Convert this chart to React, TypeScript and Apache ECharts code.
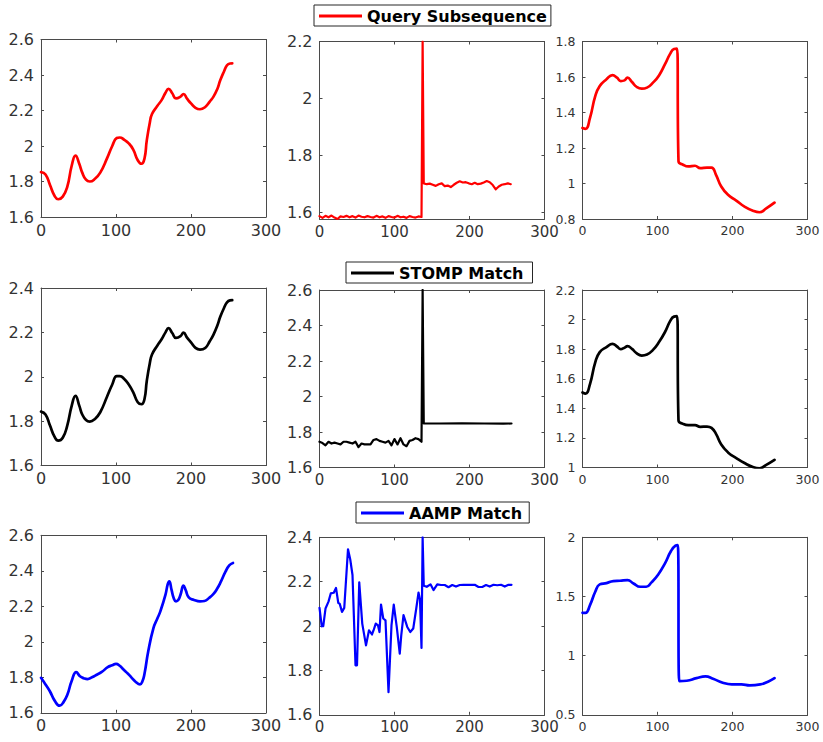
import React, { useEffect, useRef } from "react";
import * as echarts from "echarts";

// ---------- data ----------
const xTicks = [0, 100, 200, 300];

// Row 1: Query Subsequence
const q1X = [0, 6, 12, 18, 23, 29, 35, 41, 46, 51, 55, 60, 65, 72, 79, 88, 95, 101, 105, 111, 117, 123, 129, 134, 138, 141, 145, 148, 155, 161, 166, 170, 175, 180, 186, 190, 195, 200, 206, 212, 219, 225, 230, 235, 239, 244, 248, 252, 255];
const q1Y = [1.853, 1.84, 1.78, 1.72, 1.70, 1.715, 1.77, 1.89, 1.946, 1.90, 1.85, 1.81, 1.80, 1.815, 1.85, 1.93, 2.00, 2.045, 2.048, 2.035, 2.015, 1.98, 1.92, 1.90, 1.93, 2.03, 2.13, 2.18, 2.225, 2.26, 2.30, 2.322, 2.297, 2.268, 2.278, 2.293, 2.265, 2.24, 2.215, 2.207, 2.22, 2.25, 2.278, 2.32, 2.37, 2.42, 2.455, 2.465, 2.466];

const q2X = [0, 4, 8, 12, 16, 20, 24, 28, 32, 36, 40, 44, 48, 52, 56, 60, 64, 68, 72, 76, 80, 84, 88, 92, 96, 100, 104, 108, 112, 116, 120, 124, 128, 132, 136, 137.5, 139, 143, 147, 151, 155, 159, 163, 167, 171, 175, 179, 183, 187, 191, 195, 199, 203, 207, 211, 215, 219, 223, 227, 231, 235, 239, 243, 247, 251, 255];
const q2Y = [1.588, 1.582, 1.589, 1.584, 1.590, 1.583, 1.578, 1.587, 1.585, 1.589, 1.584, 1.588, 1.583, 1.590, 1.586, 1.584, 1.588, 1.585, 1.583, 1.589, 1.584, 1.587, 1.582, 1.588, 1.585, 1.583, 1.589, 1.584, 1.586, 1.582, 1.588, 1.585, 1.583, 1.587, 1.585, 2.2, 1.703, 1.700, 1.702, 1.698, 1.694, 1.700, 1.703, 1.693, 1.695, 1.690, 1.698, 1.705, 1.710, 1.706, 1.707, 1.703, 1.700, 1.705, 1.700, 1.702, 1.706, 1.711, 1.707, 1.697, 1.682, 1.692, 1.698, 1.700, 1.703, 1.700];

const q3X = [0, 4, 10, 17, 23, 32, 40, 46, 51, 56, 60, 66, 72, 79, 86, 94, 102, 110, 117, 122, 126, 128, 134, 141, 150, 157, 166, 172, 178, 185, 194, 205, 216, 228, 236, 245, 256];
const q3Y = [1.313, 1.308, 1.37, 1.492, 1.549, 1.587, 1.611, 1.596, 1.577, 1.581, 1.596, 1.572, 1.545, 1.534, 1.54, 1.568, 1.609, 1.672, 1.732, 1.758, 1.76, 1.125, 1.106, 1.096, 1.1, 1.087, 1.09, 1.09, 1.049, 0.983, 0.936, 0.904, 0.87, 0.845, 0.838, 0.86, 0.892];

// Row 2: STOMP Match
const s1X = q1X;
const s1Y = [1.843, 1.83, 1.78, 1.73, 1.712, 1.725, 1.78, 1.87, 1.914, 1.87, 1.83, 1.805, 1.798, 1.81, 1.84, 1.91, 1.965, 2.003, 2.003, 1.99, 1.965, 1.93, 1.885, 1.876, 1.90, 1.98, 2.06, 2.10, 2.14, 2.17, 2.20, 2.219, 2.197, 2.175, 2.183, 2.199, 2.175, 2.155, 2.13, 2.122, 2.13, 2.16, 2.19, 2.23, 2.27, 2.31, 2.335, 2.344, 2.345];

const s2X = [0, 4, 8, 12, 16, 20, 24, 28, 32, 36, 40, 44, 48, 52, 56, 60, 64, 68, 72, 76, 80, 84, 88, 92, 96, 100, 104, 108, 112, 116, 120, 124, 128, 132, 136, 137.5, 139, 160, 190, 220, 245, 256];
const s2Y = [1.745, 1.738, 1.725, 1.745, 1.735, 1.74, 1.735, 1.73, 1.745, 1.745, 1.74, 1.735, 1.745, 1.715, 1.735, 1.73, 1.73, 1.73, 1.755, 1.76, 1.75, 1.745, 1.74, 1.75, 1.725, 1.76, 1.73, 1.765, 1.73, 1.72, 1.75, 1.755, 1.765, 1.76, 1.745, 2.6, 1.848, 1.848, 1.849, 1.848, 1.847, 1.848];

const s3X = q3X;
const s3Y = [1.507, 1.50, 1.564, 1.711, 1.78, 1.814, 1.836, 1.818, 1.80, 1.81, 1.82, 1.802, 1.773, 1.757, 1.764, 1.795, 1.848, 1.916, 1.991, 2.02, 2.023, 1.318, 1.295, 1.286, 1.286, 1.275, 1.277, 1.268, 1.227, 1.155, 1.102, 1.064, 1.03, 1.002, 0.995, 1.018, 1.052];

// Row 3: AAMP Match
const a1X = [0, 6, 12, 18, 25, 30, 35, 41, 47, 52, 57, 62, 68, 75, 81, 89, 95, 100, 105, 110, 116, 121, 126, 132, 135, 138, 143, 150, 155, 159, 166, 169, 171, 174, 177, 180, 183, 186, 190, 193, 197, 204, 212, 218, 224, 230, 235, 240, 246, 251, 256];
const a1Y = [1.797, 1.76, 1.72, 1.67, 1.64, 1.66, 1.70, 1.78, 1.829, 1.806, 1.795, 1.79, 1.80, 1.816, 1.83, 1.857, 1.868, 1.876, 1.865, 1.844, 1.82, 1.797, 1.775, 1.76, 1.775, 1.82, 1.947, 2.078, 2.13, 2.17, 2.266, 2.325, 2.341, 2.294, 2.245, 2.228, 2.235, 2.265, 2.317, 2.29, 2.25, 2.236, 2.228, 2.23, 2.247, 2.27, 2.30, 2.34, 2.395, 2.43, 2.444];

const a2X = [0, 3, 5, 8, 12, 15, 19, 22, 25, 27, 30, 33, 38, 41, 44, 48, 50, 53, 57, 62, 66, 70, 72, 75, 78, 80, 82, 85, 88, 92, 96, 99, 103, 107, 109, 112, 117, 121, 125, 129, 132, 134, 136, 137.5, 139, 143, 148, 152, 157, 162, 167, 172, 177, 182, 187, 192, 197, 202, 207, 212, 217, 222, 227, 232, 237, 242, 247, 252, 256];
const a2Y = [2.082, 1.999, 2.0, 2.079, 2.11, 2.147, 2.15, 2.172, 2.105, 2.10, 2.064, 2.082, 2.346, 2.30, 2.23, 1.823, 1.823, 2.197, 2.011, 1.913, 1.981, 1.962, 1.98, 2.011, 2.003, 1.973, 2.097, 2.034, 2.026, 1.702, 2.004, 2.097, 1.996, 1.876, 1.958, 2.049, 1.996, 1.973, 1.989, 2.079, 2.151, 2.12, 1.901, 2.4, 2.182, 2.177, 2.188, 2.162, 2.188, 2.185, 2.185, 2.175, 2.185, 2.178, 2.185, 2.186, 2.186, 2.186, 2.186, 2.176, 2.176, 2.185, 2.178, 2.186, 2.184, 2.186, 2.178, 2.186, 2.186];

const a3X = [0, 4, 10, 17, 23, 32, 41, 50, 60, 68, 77, 85, 92, 101, 110, 118, 124, 127, 129, 139, 152, 164, 174, 187, 199, 212, 223, 237, 248, 256];
const a3Y = [1.362, 1.362, 1.427, 1.54, 1.602, 1.613, 1.63, 1.633, 1.638, 1.61, 1.582, 1.582, 1.619, 1.686, 1.78, 1.884, 1.93, 1.935, 0.785, 0.788, 0.81, 0.825, 0.805, 0.771, 0.757, 0.757, 0.749, 0.757, 0.782, 0.81];

// y tick labels and limits
const q1Ticks = [1.6, 1.8, 2, 2.2, 2.4, 2.6];
const q2Ticks = [1.6, 1.8, 2, 2.2];
const q3Ticks = [0.8, 1, 1.2, 1.4, 1.6, 1.8];
const s1Ticks = [1.6, 1.8, 2, 2.2, 2.4];
const s2Ticks = [1.6, 1.8, 2, 2.2, 2.4, 2.6];
const s3Ticks = [1, 1.2, 1.4, 1.6, 1.8, 2, 2.2];
const a1Ticks = [1.6, 1.8, 2, 2.2, 2.4, 2.6];
const a2Ticks = [1.6, 1.8, 2, 2.2, 2.4];
const a3Ticks = [0.5, 1, 1.5, 2];

const q2Min = 1.578;

const seriesNames = ["Query Subsequence", "STOMP Match", "AAMP Match"];
const seriesColors = ["#ff0000", "#000000", "#0000ff"];

// ---------- layout ----------
const FONT = '"DejaVu Sans", sans-serif';
const AXIS_COLOR = "#4a4a4a";
const TEXT_COLOR = "#333333";
const colLeft = [41, 319.5, 582.5];
const colDy = [-2, 0, 0];
const rowTop = [41.5, 290, 537.3];
const PANEL_W = 225;
const PANEL_H = 177.5;
const colFont = [16, 16, 12.5];
const colXFont = [16, 15, 12.5];

type Panel = {
  row: number;
  col: number;
  xs: number[];
  ys: number[];
  ticks: number[];
  min: number;
  max: number;
  smooth: boolean;
};

const panels: Panel[] = [
  { row: 0, col: 0, xs: q1X, ys: q1Y, ticks: q1Ticks, min: 1.6, max: 2.6, smooth: true },
  { row: 0, col: 1, xs: q2X, ys: q2Y, ticks: q2Ticks, min: q2Min, max: 2.2, smooth: false },
  { row: 0, col: 2, xs: q3X, ys: q3Y, ticks: q3Ticks, min: 0.8, max: 1.8, smooth: true },
  { row: 1, col: 0, xs: s1X, ys: s1Y, ticks: s1Ticks, min: 1.6, max: 2.4, smooth: true },
  { row: 1, col: 1, xs: s2X, ys: s2Y, ticks: s2Ticks, min: 1.6, max: 2.6, smooth: false },
  { row: 1, col: 2, xs: s3X, ys: s3Y, ticks: s3Ticks, min: 1, max: 2.2, smooth: true },
  { row: 2, col: 0, xs: a1X, ys: a1Y, ticks: a1Ticks, min: 1.6, max: 2.6, smooth: true },
  { row: 2, col: 1, xs: a2X, ys: a2Y, ticks: a2Ticks, min: 1.6, max: 2.4, smooth: false },
  { row: 2, col: 2, xs: a3X, ys: a3Y, ticks: a3Ticks, min: 0.5, max: 2, smooth: true },
];

const legendPos = [
  { left: 314, top: 5, padRight: 4 },
  { left: 346, top: 262, padRight: 9 },
  { left: 356, top: 502, padRight: 7 },
];

function buildOption() {
  const grid: any[] = [];
  const xAxis: any[] = [];
  const yAxis: any[] = [];
  const series: any[] = [];
  const lineStyle = { color: AXIS_COLOR, width: 1 };

  panels.forEach((p, i) => {
    grid.push({
      left: colLeft[p.col],
      top: rowTop[p.row] + colDy[p.col],
      width: PANEL_W,
      height: PANEL_H,
    });
    const xBase = {
      gridIndex: i,
      type: "value",
      min: xTicks[0],
      max: xTicks[xTicks.length - 1],
      interval: xTicks[1] - xTicks[0],
      splitLine: { show: false },
      axisLine: { show: true, onZero: false, lineStyle },
      axisTick: { show: true, inside: true, length: 3, lineStyle },
    };
    xAxis.push({
      ...xBase,
      position: "bottom",
      axisLabel: {
        show: true,
        fontSize: colXFont[p.col],
        color: TEXT_COLOR,
        fontFamily: FONT,
        margin: 5,
      },
    });
    xAxis.push({ ...xBase, position: "top", axisLabel: { show: false } });

    const yBase = {
      gridIndex: i,
      type: "value",
      min: p.min,
      max: p.max,
      splitLine: { show: false },
      axisLine: { show: true, onZero: false, lineStyle },
      axisTick: { show: true, inside: true, length: 3, lineStyle, customValues: p.ticks },
    };
    yAxis.push({
      ...yBase,
      position: "left",
      axisLabel: {
        show: true,
        customValues: p.ticks,
        fontSize: colFont[p.col],
        color: TEXT_COLOR,
        fontFamily: FONT,
        margin: 7,
      },
    });
    yAxis.push({ ...yBase, position: "right", axisLabel: { show: false } });

    series.push({
      type: "line",
      name: seriesNames[p.row],
      xAxisIndex: 2 * i,
      yAxisIndex: 2 * i,
      data: p.xs.map((x, k) => [x, p.ys[k]]),
      showSymbol: false,
      symbol: "none",
      smooth: p.smooth ? 0.5 : false,
      color: seriesColors[p.row],
      lineStyle: { color: seriesColors[p.row], width: p.smooth ? 2.7 : 2.2, join: "round", cap: "round" },
      clip: true,
      silent: true,
    });
  });

  const legend = seriesNames.map((name, r) => ({
    data: [name],
    left: legendPos[r].left,
    top: legendPos[r].top,
    orient: "horizontal",
    selectedMode: false,
    icon: "rect",
    itemWidth: 43,
    itemHeight: 3,
    padding: [2, legendPos[r].padRight, 1, 5],
    borderColor: "#262626",
    borderWidth: 1,
    backgroundColor: "#ffffff",
    textStyle: {
      fontFamily: FONT,
      fontWeight: "bold",
      fontSize: 16,
      color: "#000000",
      lineHeight: 18,
    },
  }));

  return { animation: false, backgroundColor: "#ffffff", grid, xAxis, yAxis, series, legend };
}

export default function App() {
  const ref = useRef<HTMLDivElement>(null);
  useEffect(() => {
    if (!ref.current) return;
    const chart = echarts.init(ref.current, null, { renderer: "svg" });
    chart.setOption(buildOption() as any);
    return () => chart.dispose();
  }, []);
  return (
    <div
      ref={ref}
      style={{ position: "absolute", left: 0, top: 0, width: 823, height: 742, background: "#fff" }}
    />
  );
}
